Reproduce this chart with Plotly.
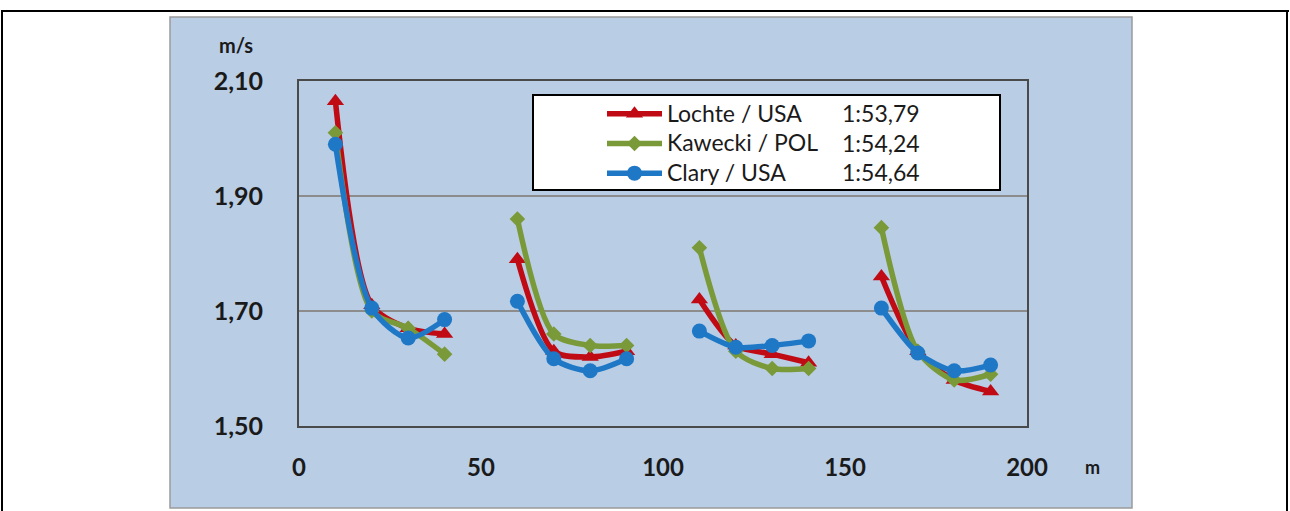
import plotly.graph_objects as go

# ---- data ----
distance = [10, 20, 30, 40, 60, 70, 80, 90, 110, 120, 130, 140, 160, 170, 180, 190]
lochte = [2.065, 1.71, 1.67, 1.66, 1.79, 1.63, 1.62, 1.63, 1.72, 1.64, 1.625, 1.61, 1.76, 1.63, 1.58, 1.56]
kawecki = [2.01, 1.70, 1.67, 1.625, 1.86, 1.66, 1.64, 1.64, 1.81, 1.63, 1.60, 1.60, 1.845, 1.63, 1.58, 1.59]
clary = [1.99, 1.705, 1.653, 1.685, 1.717, 1.617, 1.596, 1.617, 1.665, 1.637, 1.64, 1.648, 1.705, 1.627, 1.596, 1.606]
names = ["Lochte / USA", "Kawecki / POL", "Clary / USA"]
times = ["1:53,79", "1:54,24", "1:54,64"]
y_ticks = [1.5, 1.7, 1.9, 2.1]
y_ticktext = ["1,50", "1,70", "1,90", "2,10"]
x_ticks = [0, 50, 100, 150, 200]
lap_len = 4

colors = ["#C00A14", "#7A9A3A", "#1E78C6"]
symbols = ["triangle-up", "diamond", "circle"]
msizes = [15, 12, 15]


def with_gaps(xs, ys, n):
    gx, gy = [], []
    for i in range(0, len(xs), n):
        if gx:
            gx.append(None)
            gy.append(None)
        gx += xs[i:i + n]
        gy += ys[i:i + n]
    return gx, gy


fig = go.Figure()
for name, vals, c, s, ms in zip(names, [lochte, kawecki, clary], colors, symbols, msizes):
    gx, gy = with_gaps(distance, vals, lap_len)
    fig.add_trace(go.Scatter(
        x=gx, y=gy, name="<span style='font-size:23px'>" + name + "</span>",
        mode="lines+markers", connectgaps=False,
        line=dict(color=c, width=5.5, shape="spline", smoothing=0.8),
        marker=dict(symbol=s, size=ms, color=c),
    ))

L, R, T, B = 299, 1027, 81, 426
W, H = 1290, 511
pw, ph = R - L, B - T


def px(x):
    return (x - L) / pw


def py(y):
    return (B - y) / ph


shapes = [
    # blue chart panel
    dict(type="rect", xref="paper", yref="paper", x0=px(170), x1=px(1132), y0=py(508), y1=py(17),
         fillcolor="#B9CDE5", line=dict(color="#9A9A9A", width=1.5), layer="below"),
    # outer frame
    dict(type="line", xref="paper", yref="paper", x0=px(1), x1=px(1289), y0=py(11), y1=py(11),
         line=dict(color="black", width=2)),
    dict(type="line", xref="paper", yref="paper", x0=px(2), x1=px(2), y0=py(11), y1=py(520),
         line=dict(color="black", width=2)),
    dict(type="line", xref="paper", yref="paper", x0=px(1287), x1=px(1287), y0=py(11), y1=py(520),
         line=dict(color="black", width=2)),
    # legend box
    dict(type="rect", xref="paper", yref="paper", x0=px(533), x1=px(1000), y0=py(190), y1=py(95),
         fillcolor="white", line=dict(color="black", width=2), layer="above"),
]

annotations = [
    dict(text="<b>m/s</b>", xref="paper", yref="paper", x=px(236), y=py(45), showarrow=False,
         xanchor="center", yanchor="middle",
         font=dict(family="Lato", size=20, color="#1a1a1a")),
    dict(text="<b>m</b>", xref="paper", yref="paper", x=px(1092), y=py(467), showarrow=False,
         xanchor="center", yanchor="middle",
         font=dict(family="Lato", size=18, color="#1a1a1a")),
]
for i, t in enumerate(times):
    annotations.append(dict(text=t, xref="paper", yref="paper", x=px(840), y=py(113 + 29.5 * i),
                            xanchor="left", yanchor="middle", showarrow=False,
                            font=dict(family="Lato", size=23, color="#1a1a1a")))

fig.update_layout(
    width=W, height=H,
    margin=dict(l=L, r=W - R, t=T, b=H - B, pad=0),
    paper_bgcolor="white", plot_bgcolor="white",
    shapes=shapes, annotations=annotations,
    showlegend=True,
    legend=dict(x=px(602), y=py(94), xanchor="left", yanchor="top",
                bgcolor="rgba(0,0,0,0)", borderwidth=0,
                font=dict(family="Lato", size=20.5, color="#1a1a1a"),
                itemwidth=55, tracegroupgap=0),
    xaxis=dict(range=[0, 200], tickvals=x_ticks, showgrid=False, zeroline=False,
               showline=True, linecolor="#4a4a4a", linewidth=2, mirror=True,
               ticks="outside", ticklen=19, tickcolor="rgba(0,0,0,0)",
               tickfont=dict(family="Lato", size=24, color="#1a1a1a", weight="bold")),
    yaxis=dict(range=[1.5, 2.1], tickvals=y_ticks, ticktext=y_ticktext, showgrid=True,
               gridcolor="#8C8C8C", gridwidth=2, zeroline=False,
               showline=True, linecolor="#4a4a4a", linewidth=2, mirror=True,
               ticks="outside", ticklen=29, tickcolor="rgba(0,0,0,0)",
               tickfont=dict(family="Lato", size=25, color="#1a1a1a", weight="bold")),
)

fig.write_html("out.html", config={"displayModeBar": False},
               post_script="document.body.style.margin='0';")
